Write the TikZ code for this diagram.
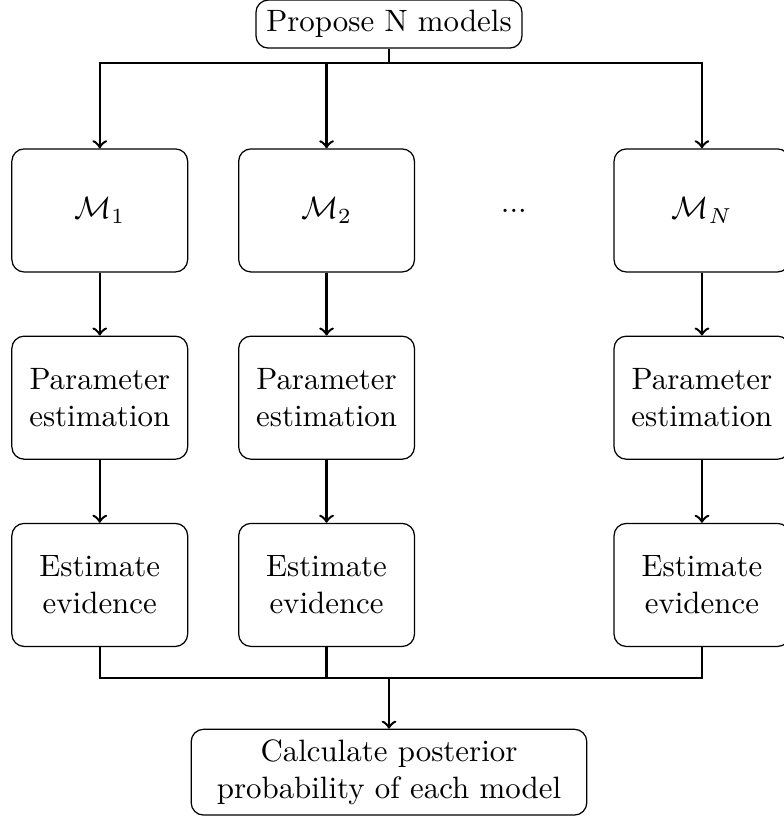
\documentclass[tikz,border=0pt]{standalone}
\usepackage{amsmath}

\begin{document}
\begin{tikzpicture}[
		box/.style={draw, rounded corners, align=center},
		modelbox/.style={box, minimum width=2cm, minimum height=1.4cm},
		link/.style={thick}
	]
		\useasboundingbox (-4.425, 0.274) rectangle (4.49, -9.02);

		\node[box] (propose) at (0, 0) {Propose N models};

		\node[modelbox] (M1) at (-3.29, -2.12) {$\mathcal{M}_1$};
		\node[modelbox] (M2) at (-0.71, -2.12) {$\mathcal{M}_2$};
		\node (dots) at (1.42, -2.12) {...};
		\node[modelbox] (MN) at (3.56, -2.12) {$\mathcal{M}_N$};

		\node[modelbox] (P1) at (-3.29, -4.25) {Parameter\\estimation};
		\node[modelbox] (P2) at (-0.71, -4.25) {Parameter\\estimation};
		\node[modelbox] (PN) at (3.56, -4.25) {Parameter\\estimation};

		\node[modelbox] (E1) at (-3.29, -6.38) {Estimate\\evidence};
		\node[modelbox] (E2) at (-0.71, -6.38) {Estimate\\evidence};
		\node[modelbox] (EN) at (3.56, -6.38) {Estimate\\evidence};

		\node[box, minimum width=4.5cm] (posterior) at (0, -8.51) {Calculate posterior\\probability of each model};

		% 分岐点と合流点
		\coordinate (split) at (0, -0.44);
		\coordinate (join) at (0, -7.44);

		\draw[link] (propose) -- (split);
		\draw[link, ->] (split) -| (M1);
		\draw[link, ->] (split) -| (M2);
		\draw[link, ->] (split) -| (MN);

		\draw[link, ->] (M1) -- (P1);
		\draw[link, ->] (M2) -- (P2);
		\draw[link, ->] (MN) -- (PN);
		\draw[link, ->] (P1) -- (E1);
		\draw[link, ->] (P2) -- (E2);
		\draw[link, ->] (PN) -- (EN);

		\draw[link] (E1) |- (join);
		\draw[link] (E2) |- (join);
		\draw[link] (EN) |- (join);
		\draw[link, ->] (join) -- (posterior);

	\end{tikzpicture}
\end{document}
